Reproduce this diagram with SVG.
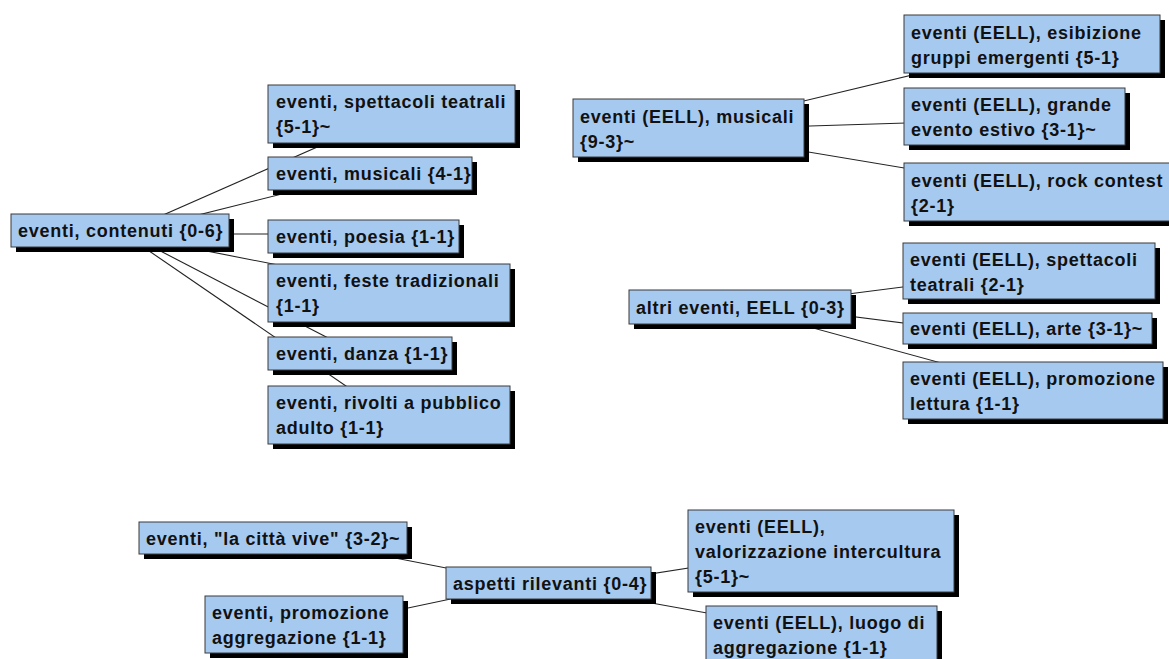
<svg xmlns="http://www.w3.org/2000/svg" width="1169" height="659" viewBox="0 0 1169 659">
<style>
.bg{fill:#ffffff}
.sh{fill:#000000}
.bx{fill:#a6c9f0;stroke:#3a3a3a;stroke-width:1}
.t{font-family:"Liberation Sans",Arial,sans-serif;font-weight:bold;font-size:18px;letter-spacing:0.75px;fill:#111111}
.c line{stroke:#222222;stroke-width:1.1}
</style>
<rect class="bg" x="0" y="0" width="1169" height="659"/>
<g id="connectors" class="c">
<line x1="120" y1="234" x2="390" y2="115"/>
<line x1="120" y1="234.6" x2="370" y2="172"/>
<line x1="120" y1="234" x2="360" y2="234"/>
<line x1="120" y1="234" x2="390" y2="287"/>
<line x1="120" y1="230" x2="360" y2="354.6"/>
<line x1="120" y1="231" x2="390" y2="416.2"/>
<line x1="690" y1="128.3" x2="1030" y2="46.7"/>
<line x1="690" y1="129.7" x2="1010" y2="119.7"/>
<line x1="690" y1="132.3" x2="1030" y2="189"/>
<line x1="740" y1="307.8" x2="1030" y2="270.7"/>
<line x1="740" y1="302.2" x2="1030" y2="339.2"/>
<line x1="740" y1="308" x2="1030" y2="387.3"/>
<line x1="270" y1="533.5" x2="550" y2="588.4"/>
<line x1="300" y1="630.7" x2="550" y2="578.1"/>
<line x1="550" y1="589.6" x2="820" y2="547.5"/>
<line x1="550" y1="584.7" x2="820" y2="633.3"/>
</g>
<g id="n-contenuti"><rect class="sh" x="16" y="219" width="218" height="33"/><rect class="bx" x="11" y="214" width="218" height="33"/><text class="t" x="18" y="237">eventi, contenuti {0-6}</text></g>
<g id="n-spettacoli"><rect class="sh" x="273" y="90" width="247" height="58"/><rect class="bx" x="268" y="85" width="247" height="58"/><text class="t" x="276" y="108">eventi, spettacoli teatrali</text><text class="t" x="276" y="133">{5-1}~</text></g>
<g id="n-musicali"><rect class="sh" x="273" y="162" width="204" height="33"/><rect class="bx" x="268" y="157" width="204" height="33"/><text class="t" x="276" y="180">eventi, musicali {4-1}</text></g>
<g id="n-poesia"><rect class="sh" x="273" y="225" width="191" height="33"/><rect class="bx" x="268" y="220" width="191" height="33"/><text class="t" x="276" y="243">eventi, poesia {1-1}</text></g>
<g id="n-feste"><rect class="sh" x="273" y="269" width="242" height="58"/><rect class="bx" x="268" y="264" width="242" height="58"/><text class="t" x="276" y="287">eventi, feste tradizionali</text><text class="t" x="276" y="312">{1-1}</text></g>
<g id="n-danza"><rect class="sh" x="273" y="342" width="184" height="33"/><rect class="bx" x="268" y="337" width="184" height="33"/><text class="t" x="276" y="360">eventi, danza {1-1}</text></g>
<g id="n-rivolti"><rect class="sh" x="273" y="391" width="242" height="58"/><rect class="bx" x="268" y="386" width="242" height="58"/><text class="t" x="276" y="409">eventi, rivolti a pubblico</text><text class="t" x="276" y="434">adulto {1-1}</text></g>
<g id="n-eell-musicali"><rect class="sh" x="578" y="104" width="231" height="58"/><rect class="bx" x="573" y="99" width="231" height="58"/><text class="t" x="580" y="123">eventi (EELL), musicali</text><text class="t" x="580" y="148">{9-3}~</text></g>
<g id="n-esibizione"><rect class="sh" x="909" y="20" width="256" height="58"/><rect class="bx" x="904" y="15" width="256" height="58"/><text class="t" x="911" y="39">eventi (EELL), esibizione</text><text class="t" x="911" y="64">gruppi emergenti {5-1}</text></g>
<g id="n-grande"><rect class="sh" x="909" y="93" width="221" height="57"/><rect class="bx" x="904" y="88" width="221" height="57"/><text class="t" x="911" y="111">eventi (EELL), grande</text><text class="t" x="911" y="136">evento estivo {3-1}~</text></g>
<g id="n-rock"><rect class="sh" x="909" y="168" width="270" height="58"/><rect class="bx" x="904" y="163" width="270" height="58"/><text class="t" x="911" y="187">eventi (EELL), rock contest</text><text class="t" x="911" y="212">{2-1}</text></g>
<g id="n-altri"><rect class="sh" x="634" y="295" width="222" height="34"/><rect class="bx" x="629" y="290" width="222" height="34"/><text class="t" x="636" y="314">altri eventi, EELL {0-3}</text></g>
<g id="n-eell-spettacoli"><rect class="sh" x="908" y="248" width="252" height="56"/><rect class="bx" x="903" y="243" width="252" height="56"/><text class="t" x="910" y="266">eventi (EELL), spettacoli</text><text class="t" x="910" y="291">teatrali {2-1}</text></g>
<g id="n-arte"><rect class="sh" x="908" y="318" width="249" height="31"/><rect class="bx" x="903" y="313" width="249" height="31"/><text class="t" x="910" y="335">eventi (EELL), arte {3-1}~</text></g>
<g id="n-lettura"><rect class="sh" x="908" y="367" width="260" height="57"/><rect class="bx" x="903" y="362" width="260" height="57"/><text class="t" x="910" y="385">eventi (EELL), promozione</text><text class="t" x="910" y="410">lettura {1-1}</text></g>
<g id="n-citta"><rect class="sh" x="144" y="527" width="268" height="32"/><rect class="bx" x="139" y="522" width="268" height="32"/><text class="t" x="146" y="545">eventi, "la città vive" {3-2}~</text></g>
<g id="n-aggregazione"><rect class="sh" x="210" y="601" width="198" height="57"/><rect class="bx" x="205" y="596" width="198" height="57"/><text class="t" x="212" y="619">eventi, promozione</text><text class="t" x="212" y="644">aggregazione {1-1}</text></g>
<g id="n-aspetti"><rect class="sh" x="451" y="572" width="205" height="32"/><rect class="bx" x="446" y="567" width="205" height="32"/><text class="t" x="453" y="590">aspetti rilevanti {0-4}</text></g>
<g id="n-intercultura"><rect class="sh" x="693" y="515" width="266" height="82"/><rect class="bx" x="688" y="510" width="266" height="82"/><text class="t" x="695" y="533">eventi (EELL),</text><text class="t" x="695" y="558">valorizzazione intercultura</text><text class="t" x="695" y="583">{5-1}~</text></g>
<g id="n-luogo"><rect class="sh" x="711" y="611" width="231" height="58"/><rect class="bx" x="706" y="606" width="231" height="58"/><text class="t" x="713" y="629">eventi (EELL), luogo di</text><text class="t" x="713" y="654">aggregazione {1-1}</text></g>
</svg>
